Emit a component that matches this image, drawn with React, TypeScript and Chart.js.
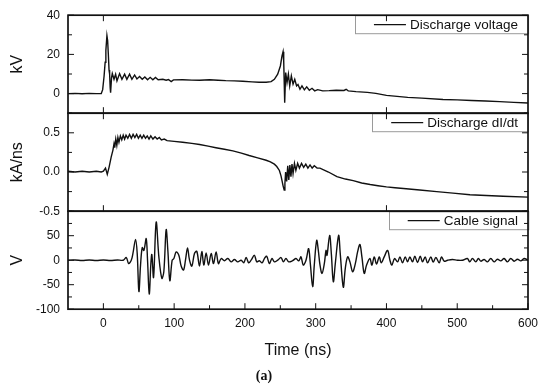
import React, { useEffect, useRef } from "react";
import { Chart, registerables } from "chart.js";

Chart.register(...registerables);

const FONT = '"Liberation Sans", Arial, Helvetica, sans-serif';

// ---- tick labels / axes ----
const xTickValues = [0, 100, 200, 300, 400, 500, 600];
const voltTicks = [0, 20, 40];
const didtTicks = [-0.5, 0, 0.5];
const cableTicks = [-100, -50, 0, 50];
const seriesLabels = ["Discharge voltage", "Discharge dI/dt", "Cable signal"];
const axisTitles = ["kV", "kA/ns", "V"];

// ---- Discharge voltage (kV) ----
const voltT = [-50, -40, -30, -20, -10, -3, -1, 1, 2.5, 3.5, 5, 6, 7, 8, 8.8, 9.6, 10.2, 11.5, 12.6, 15, 17.3, 19.2, 22.9, 26.2, 30, 33.2, 37, 40.3, 44.1, 47.4, 51.1, 54.9, 58.6, 62.4, 66.1, 69.9, 73.6, 77.4, 84, 88.7, 92, 95.8, 99, 112, 125, 136, 150, 162, 173, 185, 197, 210, 220, 230, 237, 241.6, 246.3, 250.1, 252.4, 253.9, 254.8, 256.2, 257.6, 259.5, 261.4, 263.3, 265.6, 268, 270.4, 273, 275, 277.8, 280.6, 284, 287.3, 291, 294.8, 298.6, 302.8, 310, 319, 329, 340, 343, 346, 357, 373, 385, 400, 415, 430, 450, 480, 500, 520, 540, 560, 580, 600];
const voltV = [0, 0.1, -0.1, 0.1, 0, 0, 2, 9, 16, 22, 29.6, 27, 20, 12, 10, 3, 0.5, 8, 10.2, 7.3, 9.9, 6.5, 10.2, 7.3, 9.9, 7.3, 9.9, 7.3, 9.5, 7.5, 8.7, 7.3, 8.5, 7.1, 8.3, 7.0, 8.2, 7.1, 7.3, 6.8, 7.2, 6.1, 7.0, 7.1, 6.9, 6.8, 7.1, 6.8, 6.6, 6.5, 6.3, 6.0, 5.8, 5.8, 6.1, 7.3, 9.9, 14.1, 19.2, 21.4, 16.7, -4.6, 10.7, 5.6, 9.9, 3.9, 9.0, 4.8, 7.3, 3.9, 4.6, 2.2, 3.9, 1.9, 3.4, 1.7, 2.7, 1.4, 2.0, 1.4, 1.5, 1.7, 1.6, 2.2, 1.4, 1.0, 0.6, 0.1, -0.9, -1.4, -1.9, -2.3, -3.0, -3.2, -3.5, -3.8, -4.1, -4.5, -4.8];

// ---- Discharge dI/dt (kA/ns) ----
const didtT = [-50, -40, -30, -20, -10, -3, 0, 3, 5.5, 8, 11, 13.5, 15, 16, 17.5, 19, 20.5, 22, 24, 26, 28, 30, 32, 34.5, 37, 39.5, 42, 44.5, 47, 49.5, 52, 54.5, 57, 59.5, 62, 64.5, 67, 70, 73, 76, 79, 82, 86, 90, 100, 112, 125, 136, 148, 159, 171, 183, 195, 206, 218, 230, 236, 241.6, 245, 248.7, 251, 252.4, 254, 255.5, 256.5, 257.5, 259, 260.5, 262, 263.5, 265, 266.5, 268, 270, 272, 274.5, 277, 280, 283, 286, 289, 292, 295, 298, 302, 306, 318, 330, 342, 353, 365, 377, 388, 400, 412, 424, 447, 471, 494, 518, 541, 565, 600];
const didtV = [0.01, 0.0, 0.01, 0.0, 0.01, 0.0, 0.01, 0.05, -0.03, 0.06, 0.19, 0.28, 0.36, 0.31, 0.42, 0.34, 0.44, 0.38, 0.46, 0.41, 0.47, 0.42, 0.47, 0.43, 0.48, 0.43, 0.48, 0.44, 0.48, 0.43, 0.47, 0.43, 0.47, 0.43, 0.46, 0.42, 0.46, 0.42, 0.45, 0.42, 0.44, 0.41, 0.42, 0.40, 0.39, 0.38, 0.365, 0.35, 0.33, 0.31, 0.29, 0.27, 0.24, 0.21, 0.18, 0.15, 0.13, 0.10, 0.07, 0.02, -0.05, -0.11, -0.18, -0.23, -0.15, 0.0, -0.12, 0.08, -0.1, 0.09, -0.06, 0.1, -0.02, 0.11, 0.02, 0.11, 0.05, 0.11, 0.06, 0.1, 0.05, 0.09, 0.05, 0.08, 0.05, 0.05, 0.0, -0.06, -0.09, -0.11, -0.14, -0.16, -0.175, -0.19, -0.2, -0.21, -0.23, -0.25, -0.27, -0.29, -0.30, -0.31, -0.32];

// ---- Cable signal (V) ----
const cableT = [-50, -40, -30, -20, -10, 0, 10, 20, 28, 32.4, 35.6, 39.4, 41.7, 45.5, 47.8, 50.2, 52.5, 54.9, 57.2, 60.5, 62.4, 64.8, 67.1, 68.5, 70.9, 74.6, 78.4, 82.6, 85.4, 88.7, 91.1, 93.9, 97.2, 99.6, 102.9, 106.6, 109.9, 113.2, 116, 118.9, 121.7, 125, 128.7, 132, 135.8, 139.1, 141.9, 145.2, 148.5, 152.3, 155.6, 159.3, 162.6, 166.4, 171.1, 175.8, 180.5, 185.2, 189.9, 194.6, 198.4, 201.7, 205.4, 208.7, 213.4, 216.7, 220.4, 224.2, 227.5, 230.8, 234.5, 238.3, 241.6, 246.3, 251, 254.3, 258, 261.8, 267.4, 272.2, 276, 279.2, 282.4, 286.3, 290, 292.4, 295.7, 298, 301.4, 303.7, 306.1, 308.9, 312.2, 314.6, 316, 319.7, 322.1, 324.9, 327.7, 332.4, 334.7, 339, 341.8, 345.1, 348.4, 352.2, 356, 359.2, 362.5, 365.3, 368.6, 371.9, 376.6, 379.4, 382.7, 386, 389.8, 392.6, 396.8, 401.6, 404.9, 407.7, 411.4, 415.7, 419, 422.7, 426.5, 429.8, 433.1, 436.8, 440.1, 443.9, 447.7, 451, 454.7, 458, 462.7, 466, 469.8, 474.5, 477.8, 481.5, 486.3, 493.3, 500.3, 507.4, 514.4, 517.7, 521.5, 526.2, 530, 533.3, 538, 542.7, 547.4, 552.1, 556.8, 561.5, 566.2, 571, 575.7, 580.4, 585.1, 589.8, 594.5, 600];
const cableV = [0, 0.5, -0.5, 0.5, -0.5, 0.5, -0.5, 0.5, 0, 5.4, -6.8, 0, 13.5, 42.6, 13.5, -64, -10, 25.7, 20, 44, 0, -69, -7, 11.5, -35, 77.7, 6.8, -37, -23.6, 62.2, 20, -42, 0, 3.4, 16.9, 10, -12, -20, 0, 25, 0, -12, 13.5, 18, -12, 17.6, -10, 15, -10, 13.5, -7, 17, -7, 3.4, -1, 3.4, -3.4, 1.4, -3.4, 0, -5.4, 5.4, -5.4, 0, 10, -3.4, -1, -5.4, 3.4, 8, -6.8, 3.4, -3.4, 0, 5.4, -3.4, 3.4, -3.4, -1, 3.4, -1.4, 6.8, -10, 0, 23.6, -6.8, -54, -10, 40.5, 20, -10, -27, -7, 20, 10, 50.7, 13.5, -44, -7, 50.7, 13.5, -55, -17, 6.8, -3.4, -23.6, -7, 17, 32, 6.8, -27, -10, 3.4, -10, 6.8, -8, 6.8, -5.4, 6.8, 20, 0, -10, 3.4, -3.4, 6.8, -5.4, 6.8, -3.4, 6.8, -3.4, 8, -4.7, 8, -3.4, 6.8, -5.4, 6.8, -4, 5.4, -5.4, 6.8, -2, 0, 1.4, 0, 0, 3.4, -3.4, 3.4, -3.4, 3.4, -2, 1.4, -3.4, 3.4, -3.4, 2, -1.4, 3.4, -3.4, 3.4, -2, 2, -1.4, 3.4, 0];

const panelDefs = [
  { id: "yV", minorStep: 10, majors: voltTicks, betweenX: [0, 400], bottomAxis: false },
  { id: "yI", minorStep: 0.25, majors: didtTicks, betweenX: [0, 400], bottomAxis: false },
  { id: "yC", minorStep: 25, majors: cableTicks, betweenX: [], bottomAxis: true },
];

const panelPlugin = {
  id: "panelFrames",
  afterDatasetsDraw(chart: any) {
    const ctx = chart.ctx as CanvasRenderingContext2D;
    const { left, right } = chart.chartArea;
    const xs = chart.scales.x;
    ctx.save();
    // legends
    chart.data.datasets.forEach((ds: any) => {
      const sc = chart.scales[ds.yAxisID];
      ctx.font = `13.5px ${FONT}`;
      const tw = ctx.measureText(ds.label).width;
      const bw = tw + 65;
      const bh = 18;
      const x0 = right - bw;
      const y0 = sc.top;
      ctx.fillStyle = "#fff";
      ctx.fillRect(x0, y0, bw, bh);
      ctx.strokeStyle = "#9a9a9a";
      ctx.lineWidth = 1;
      ctx.strokeRect(Math.round(x0) + 0.5, y0 + 0.5, bw, bh);
      ctx.strokeStyle = "#111";
      ctx.lineWidth = 1.2;
      ctx.beginPath();
      ctx.moveTo(x0 + 19, y0 + bh / 2 + 0.5);
      ctx.lineTo(x0 + 51, y0 + bh / 2 + 0.5);
      ctx.stroke();
      ctx.fillStyle = "#111";
      ctx.textBaseline = "middle";
      ctx.textAlign = "left";
      ctx.fillText(ds.label, x0 + 55, y0 + bh / 2 + 1);
    });
    // frames and ticks
    ctx.strokeStyle = "#111";
    panelDefs.forEach((p) => {
      const sc = chart.scales[p.id];
      ctx.lineWidth = 1;
      ctx.beginPath();
      for (let v = sc.min; v <= sc.max + 1e-9; v += p.minorStep) {
        const y = sc.getPixelForValue(v);
        const major = p.majors.some((m) => Math.abs(m - v) < 1e-6);
        const len = major ? 6 : 4;
        ctx.moveTo(left, y);
        ctx.lineTo(left + len, y);
        ctx.moveTo(right, y);
        ctx.lineTo(right - len, y);
      }
      p.betweenX.forEach((t) => {
        const x = xs.getPixelForValue(t);
        ctx.moveTo(x, sc.top);
        ctx.lineTo(x, sc.top + 6);
        ctx.moveTo(x, sc.bottom);
        ctx.lineTo(x, sc.bottom - 6);
      });
      if (p.bottomAxis) {
        for (let t = 0; t <= 600; t += 50) {
          const x = xs.getPixelForValue(t);
          const len = xTickValues.includes(t) ? 6 : 4;
          ctx.moveTo(x, sc.bottom);
          ctx.lineTo(x, sc.bottom - len);
        }
      }
      ctx.stroke();
      ctx.lineWidth = 1.7;
      ctx.strokeRect(left, sc.top, right - left, sc.bottom - sc.top);
    });
    ctx.restore();
  },
};

function yScale(min: number, max: number, majors: number[], title: string, decimals: number) {
  return {
    type: "linear",
    position: "left",
    stack: "panels",
    stackWeight: 1,
    min,
    max,
    grid: { display: false, drawTicks: false },
    border: { display: false },
    afterBuildTicks: (s: any) => {
      s.ticks = majors.map((v) => ({ value: v }));
    },
    afterFit: (s: any) => {
      s.width = 68;
    },
    ticks: {
      padding: 8,
      color: "#111",
      font: { family: FONT, size: 12 },
      callback: (v: any) => Number(v).toFixed(decimals),
    },
    title: {
      display: true,
      text: title,
      color: "#111",
      font: { family: FONT, size: 16 },
      padding: { top: 8, bottom: 0 },
    },
  };
}

export default function App() {
  const ref = useRef<HTMLCanvasElement>(null);
  useEffect(() => {
    if (!ref.current) return;
    const lineStyle = { borderColor: "#111", borderWidth: 1.4, pointRadius: 0, fill: false };
    const chart = new Chart(ref.current, {
      type: "line",
      data: {
        datasets: [
          { ...lineStyle, label: seriesLabels[0], yAxisID: "yV", tension: 0, data: voltT.map((t, i) => ({ x: t, y: voltV[i] })) },
          { ...lineStyle, label: seriesLabels[1], yAxisID: "yI", tension: 0, data: didtT.map((t, i) => ({ x: t, y: didtV[i] })) },
          { ...lineStyle, label: seriesLabels[2], yAxisID: "yC", tension: 0.35, data: cableT.map((t, i) => ({ x: t, y: cableV[i] })) },
        ],
      },
      options: {
        responsive: false,
        animation: false,
        layout: { padding: { top: 12, right: 22, bottom: 1, left: 0 } },
        plugins: {
          legend: { display: false },
          tooltip: { enabled: false },
          title: {
            display: true,
            position: "bottom",
            text: "(a)",
            color: "#111",
            font: { family: '"Liberation Serif", "DejaVu Serif", serif', size: 14, weight: "bold" },
            padding: { top: 8, bottom: 2 },
          },
        },
        scales: {
          x: {
            type: "linear",
            min: -50,
            max: 600,
            grid: { display: false, drawTicks: false },
            border: { display: false },
            afterBuildTicks: (s: any) => {
              s.ticks = xTickValues.map((v) => ({ value: v }));
            },
            afterFit: (s: any) => {
              s.height = 51;
            },
            ticks: { autoSkip: false, maxRotation: 0, padding: 7, color: "#111", font: { family: FONT, size: 12 } },
            title: {
              display: true,
              text: "Time (ns)",
              color: "#111",
              font: { family: FONT, size: 16 },
              padding: { top: 0, bottom: 0 },
            },
          },
          yC: yScale(-100, 100, cableTicks, axisTitles[2], 0),
          yI: yScale(-0.5, 0.75, didtTicks, axisTitles[1], 1),
          yV: yScale(-10, 40, voltTicks, axisTitles[0], 0),
        } as any,
      },
      plugins: [panelPlugin],
    } as any);
    return () => chart.destroy();
  }, []);
  return (
    <div style={{ position: "absolute", left: 0, top: 0, width: 550, height: 388, background: "#fff" }}>
      <canvas ref={ref} width={550} height={388} />
    </div>
  );
}
